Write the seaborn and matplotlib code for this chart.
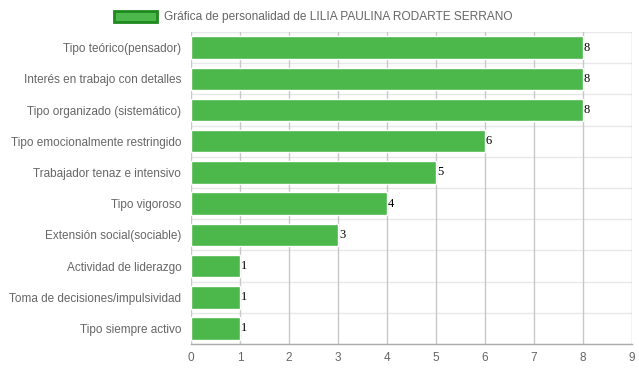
import matplotlib
matplotlib.use("Agg")
import matplotlib.pyplot as plt
from matplotlib.patches import Patch
import pandas as pd
import seaborn as sns

categories = [
    "Tipo teórico(pensador)",
    "Interés en trabajo con detalles",
    "Tipo organizado (sistemático)",
    "Tipo emocionalmente restringido",
    "Trabajador tenaz e intensivo",
    "Tipo vigoroso",
    "Extensión social(sociable)",
    "Actividad de liderazgo",
    "Toma de decisiones/impulsividad",
    "Tipo siempre activo",
]
scores = [8, 8, 8, 6, 5, 4, 3, 1, 1, 1]
x_ticks = list(range(0, 10))
legend_label = "Gráfica de personalidad de LILIA PAULINA RODARTE SERRANO"

df = pd.DataFrame({"categoria": categories, "valor": scores})

sns.set_theme(style="white")
plt.rcParams['font.family'] = ['Liberation Sans', 'DejaVu Sans']

bar_color = "#4cb74a"
fig = plt.figure(figsize=(6.39, 3.72), dpi=100)
ax = fig.add_axes([0.299, 0.075, 0.690, 0.839])

sns.barplot(data=df, x="valor", y="categoria", orient="h", color=bar_color,
            saturation=1, width=0.72, ax=ax, zorder=3)

ax.set_xlim(0, 9)
ax.set_ylim(len(categories) - 0.5, -0.5)
ax.set_xticks(x_ticks)
ax.set_xlabel("")
ax.set_ylabel("")

# grid: vertical darker, horizontal light at category boundaries
ax.grid(False)
for x in x_ticks:
    ax.axvline(x, color="#c8c8c8", lw=1, zorder=1)
ax.set_yticks([i - 0.5 for i in range(len(categories) + 1)], minor=True)
ax.grid(True, axis="y", which="minor", color="#e8e8e8", lw=1, zorder=0)
ax.tick_params(axis="y", which="minor", length=11, color="#e8e8e8", width=1)
ax.tick_params(axis="y", which="major", length=0, pad=7, labelsize=8.5, labelcolor="#666666")
ax.tick_params(axis="x", which="major", length=0, pad=6, labelsize=8.5, labelcolor="#666666")

for s in ["top", "right", "left"]:
    ax.spines[s].set_visible(False)
ax.spines["bottom"].set_color("#aaaaaa")
ax.spines["bottom"].set_linewidth(1)

for i, v in enumerate(scores):
    ax.text(v + 0.02, i, str(v), va="center", ha="left", fontsize=9,
            family=["Liberation Serif", "DejaVu Serif"], color="#000000", zorder=4)

handle = Patch(facecolor=bar_color, edgecolor="#1e8a1e", linewidth=2)
fig.legend([handle], [legend_label], loc="upper center", bbox_to_anchor=(0.49, 1.0),
           frameon=False, fontsize=8.6, handlelength=3.6, handleheight=1.05,
           handletextpad=0.6, labelcolor="#666666")

fig.savefig("out.png", dpi=100)
